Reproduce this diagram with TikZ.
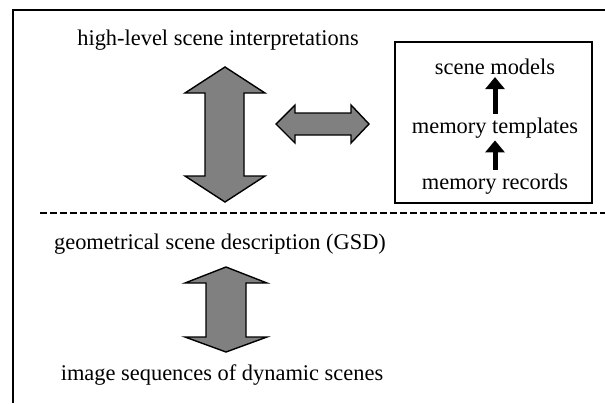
\documentclass[tikz,border=0pt]{standalone}
\usepackage{fontspec}
\setmainfont{Liberation Serif}
\usetikzlibrary{arrows.meta}
\usetikzlibrary{positioning}
\definecolor{arrowgray}{RGB}{128,128,128}

\begin{document}
\begin{tikzpicture}[x=1bp,y=-1bp,
  every node/.style={font=\fontsize{22.5}{26}\selectfont,inner sep=1pt},
  fatarrow/.style={draw,line width=1.4bp,line join=miter,fill=arrowgray},
  uparrow/.style={line width=5bp,-{Triangle[length=12bp,width=19bp]},shorten <=3bp,shorten >=1bp}]
  \useasboundingbox (0,0) rectangle (605,403);
  % frame, open to the right and below
  \draw[line width=1.3bp] (605,10) -- (13,10) -- (13,403);
  % layer labels
  \node (hl) at (218,40) {high-level scene interpretations};
  \node (gsd) at (220,244) {geometrical scene description (GSD)};
  \node (img) at (222,375) {image sequences of dynamic scenes};
  % memory box
  \draw[line width=1.3bp] (395,42) rectangle (592,203);
  \node (sm) at (495,67) {scene models};
  \node (mt) at (495,128) {memory templates};
  \node (mr) at (495,184) {memory records};
  \draw[uparrow] (mr) -- (mt);
  \draw[uparrow] (mt) -- (sm);
  % interpretation <-> GSD
  \draw[fatarrow] (225,67) -- (265,93) -- (244,93) -- (244,176) -- (265,176)
    -- (225,202) -- (185,176) -- (205,176) -- (205,93) -- (185,93) -- cycle;
  % interpretation <-> memory
  \draw[fatarrow] (276,124) -- (295,105) -- (295,113) -- (351,113) -- (351,105)
    -- (369,124) -- (351,143) -- (351,135) -- (295,135) -- (295,143) -- cycle;
  % GSD <-> images
  \draw[fatarrow] (226,267) -- (267,283) -- (246,283) -- (246,337) -- (267,337)
    -- (226,352) -- (185,337) -- (206,337) -- (206,283) -- (185,283) -- cycle;
  % border between the two levels
  \draw[line width=1.8bp,dash pattern=on 7bp off 3bp] (40,213) -- (605,213);
\end{tikzpicture}
\end{document}
